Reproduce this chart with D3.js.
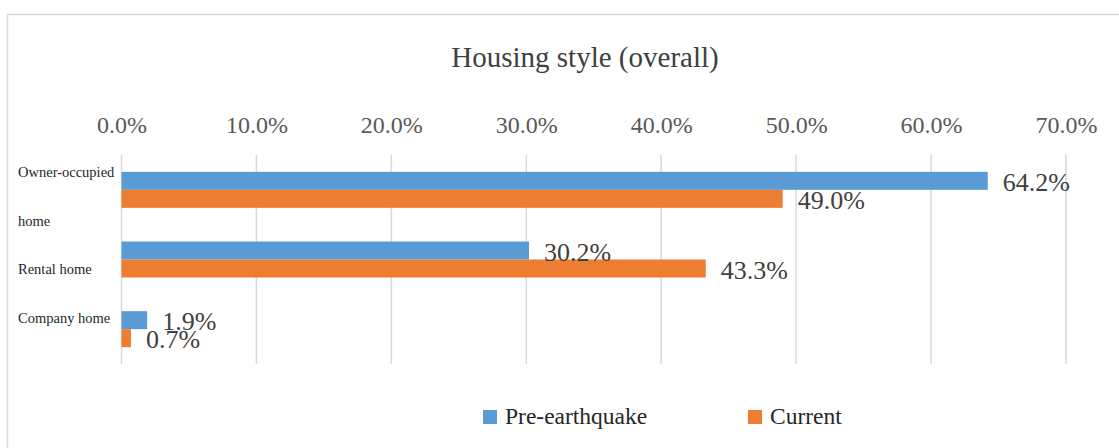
<!DOCTYPE html>
<html>
<head>
<meta charset="utf-8">
<script src="https://cdn.jsdelivr.net/npm/d3@7"></script>
<style>
  body { margin: 0; background: #fff; }
  svg text { font-family: "Liberation Serif", "DejaVu Serif", serif; }
</style>
</head>
<body>
<svg id="chart" width="1119" height="448"></svg>
<script>
// chart values
var categories = ["Owner-occupied home", "Rental home", "Company home"];
// the category text wraps as one block: these are its lines
var categoryLines = ["Owner-occupied", "home", "Rental home", "Company home"];
var seriesNames = ["Pre-earthquake", "Current"];
var preEarthquake = [64.2, 30.2, 1.9];
var current = [49.0, 43.3, 0.7];
var tickValues = [0, 10, 20, 30, 40, 50, 60, 70];

var colors = ["#5B9BD5", "#ED7D31"];

var svg = d3.select("#chart");

// outer chart frame (runs off the right and bottom edge)
svg.append("rect")
	.attr("x", 7.5)
	.attr("y", 14.5)
	.attr("width", 1200)
	.attr("height", 500)
	.attr("fill", "none")
	.attr("stroke", "#d9d9d9")
	.attr("stroke-width", 1.5);

// title
svg.append("text")
	.text("Housing style (overall)")
	.attr("x", 585)
	.attr("y", 67)
	.attr("text-anchor", "middle")
	.style("font-size", "29px")
	.style("fill", "#404040");

var xScale = d3.scaleLinear()
	.domain([0, 70])
	.range([121.5, 1066]);

var yScale = d3.scaleBand()
	.domain(categories)
	.range([155, 364])
	.paddingInner(0)
	.paddingOuter(0);

var barH = 18;

// gridlines
svg.append("g")
	.attr("class", "grid")
	.selectAll("line")
	.data(tickValues)
	.join("line")
	.attr("x1", d => xScale(d))
	.attr("x2", d => xScale(d))
	.attr("y1", yScale.range()[0])
	.attr("y2", yScale.range()[1])
	.attr("stroke", "#d9d9d9")
	.attr("stroke-width", 1.5);

// top axis labels
var xAxis = d3.axisTop(xScale)
	.tickValues(tickValues)
	.tickSize(0)
	.tickPadding(0)
	.tickFormat(d => d.toFixed(1) + "%");

var axisG = svg.append("g")
	.attr("transform", "translate(0,133)")
	.call(xAxis);
axisG.select(".domain").remove();
axisG.selectAll("text")
	.style("font-family", "'Liberation Serif', serif")
	.style("font-size", "24px")
	.style("fill", "#595959");

// category labels, spread evenly down the left side
var lineStep = 48.7;
svg.append("g")
	.attr("class", "categories")
	.selectAll("text")
	.data(categoryLines)
	.join("text")
	.text(d => d)
	.attr("x", 18)
	.attr("y", (d, i) => 177 + i * lineStep)
	.style("font-size", "14.5px")
	.style("fill", "#262626");

// bars first, then all value labels on top of them
var series = [preEarthquake, current];
var barLayer = svg.append("g").attr("class", "bars");
var labelLayer = svg.append("g").attr("class", "labels");

series.forEach(function(values, s){
	var yOff = s === 0 ? -barH : 0;
	barLayer.append("g")
		.selectAll("rect")
		.data(values)
		.join("rect")
		.attr("x", xScale(0))
		.attr("y", (d, i) => yScale(categories[i]) + yScale.bandwidth() / 2 + yOff)
		.attr("width", d => xScale(d) - xScale(0))
		.attr("height", barH)
		.attr("fill", colors[s]);

	labelLayer.append("g")
		.selectAll("text")
		.data(values)
		.join("text")
		.text(d => d.toFixed(1) + "%")
		.attr("x", d => xScale(d) + 15)
		.attr("y", (d, i) => yScale(categories[i]) + yScale.bandwidth() / 2 + yOff + barH / 2 + 10)
		.style("font-size", "26px")
		.style("fill", "#404040");
});

// legend
var legendX = [483, 748];
var legend = svg.append("g").attr("class", "legend");
seriesNames.forEach(function(name, i){
	legend.append("rect")
		.attr("x", legendX[i])
		.attr("y", 410)
		.attr("width", 14)
		.attr("height", 14)
		.attr("fill", colors[i]);
	legend.append("text")
		.text(name)
		.attr("x", legendX[i] + 22)
		.attr("y", 424)
		.style("font-size", "23.5px")
		.style("fill", "#262626");
});
</script>
</body>
</html>
